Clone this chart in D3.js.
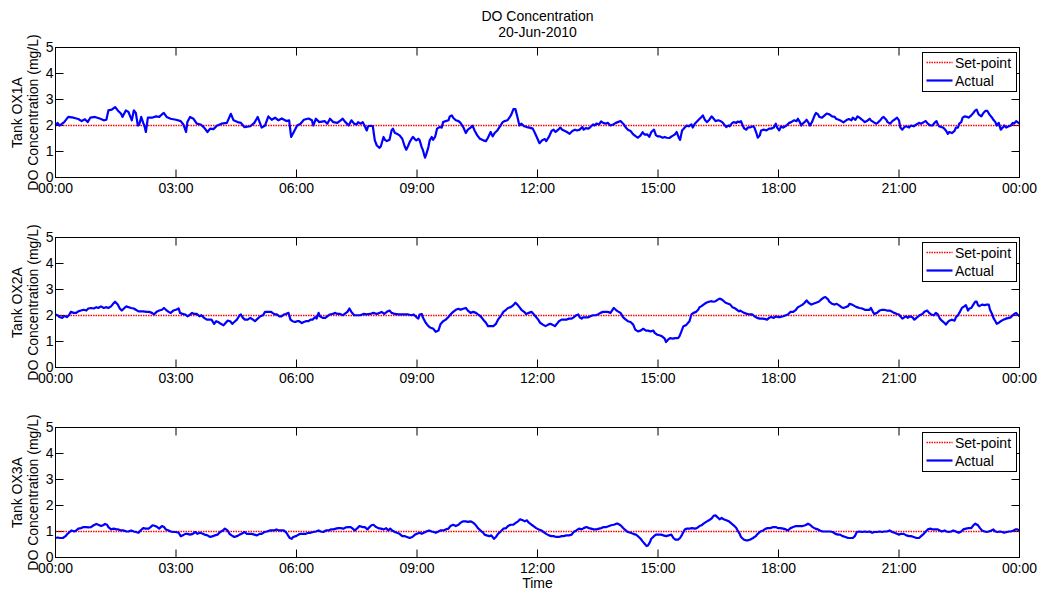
<!DOCTYPE html>
<meta charset="utf-8">

<style type="text/css">
body { margin: 0; background: #fff; }
text { font-family: "Liberation Sans", Arial, sans-serif; fill: #000; }
/* blue measured trace */
.line {
    fill: none;
    stroke: #0000ff;
    stroke-width: 2.2px;
    stroke-linejoin: round;
}
</style>
<body>
</body>

<script src="https://cdnjs.cloudflare.com/ajax/libs/d3/7.8.5/d3.min.js"></script>
<script>

// ---- data : [minute of day, DO mg/L] ----
var tanks = ["OX1A", "OX2A", "OX3A"];
var setPoints = [2, 2, 1];
var xTicks = [0, 180, 360, 540, 720, 900, 1080, 1260, 1440];
var xTickLabels = ["00:00", "03:00", "06:00", "09:00", "12:00", "15:00", "18:00", "21:00", "00:00"];
var yTicks = [0, 1, 2, 3, 4, 5];

var ox1a = [[0,2.0],[3,2.1],[6,2.0],[9,2.05],[13,2.13],[19,2.33],[27,2.3],[34,2.25],[39,2.17],[44,2.24],
[48,2.13],[52,2.3],[59,2.33],[67,2.26],[72,2.2],[76,2.22],[79,2.58],[84,2.61],[89,2.71],[93,2.58],
[98,2.45],[100,2.33],[105,2.58],[109,2.52],[111,2.39],[114,2.2],[117,2.58],[120,2.48],[123,2.0],[125,2.03],
[128,2.33],[131,2.1],[133,1.97],[135,1.75],[138,2.3],[144,2.3],[150,2.35],[155,2.33],[160,2.45],[162,2.48],
[166,2.33],[172,2.26],[180,2.22],[187,2.17],[191,2.04],[195,1.75],[197,2.13],[201,2.33],[206,2.26],[211,2.07],
[217,2.04],[222,1.92],[227,1.75],[231,1.88],[236,1.86],[241,1.99],[248,2.07],[256,2.1],[262,2.45],[266,2.2],
[272,2.13],[277,2.1],[282,1.94],[291,1.97],[297,2.1],[302,2.33],[308,1.92],[313,2.0],[318,2.35],[323,2.22],
[328,2.3],[333,2.2],[338,2.27],[345,2.17],[349,2.2],[352,1.56],[356,1.75],[361,2.0],[366,2.07],[371,2.22],
[378,2.27],[383,2.2],[385,2.0],[389,2.26],[394,2.13],[402,2.17],[406,2.07],[410,2.26],[415,2.13],[421,2.1],
[426,2.2],[429,2.26],[433,2.13],[438,2.0],
[442,2.2],[446,2.07],[450,2.04],[452,2.13],[456,2.07],[459,2.13],[462,1.97],[465,1.81],[467,1.97],[471,1.99],
[474,1.97],[477,1.43],[480,1.23],[484,1.14],[486,1.2],[490,1.56],[492,1.45],[495,1.4],[499,1.45],[502,1.81],
[504,1.88],[507,1.71],[510,1.68],[514,1.62],[518,1.49],[522,1.17],[524,1.07],[527,1.23],[529,1.36],[532,1.49],
[534,1.56],[537,1.47],[539,1.43],[542,1.49],[544,1.43],[547,1.17],[549,1.04],[552,0.76],[554,0.91],[557,1.17],
[559,1.43],[562,1.56],[564,1.45],[567,1.56],[570,1.88],[574,1.94],[577,1.92],[579,2.13],[583,2.17],[587,2.2],
[589,2.35],[592,2.39],[594,2.3],[598,2.2],[602,2.17],[605,2.1],[609,1.94],[613,1.71],[616,1.84],[620,1.92],
[623,1.99],[626,1.81],[630,1.62],[634,1.49],[639,1.43],[643,1.4],[646,1.53],[650,1.75],[653,1.58],[656,1.71],
[660,1.81],[664,1.97],[668,2.13],[671,2.17],[675,2.2],[678,2.3],[681,2.43],[684,2.63],[687,2.63],[690,2.33],
[693,2.0],[696,2.07],[700,1.97],[704,1.94],[708,1.92],[713,1.88],[717,1.66],[720,1.49],[723,1.32],[727,1.43],
[731,1.48],[733,1.4],[737,1.56],[741,1.79],[744,1.84],[747,1.75],[751,1.84],[754,1.92],[757,1.84],[761,1.79],
[764,1.75],[768,1.68],[772,1.79],[776,1.84],[779,1.81],[783,1.84],[787,1.94],[789,1.84],[792,1.9],[796,1.88],
[799,1.94],[803,2.04],[805,2.0],[808,2.07],[812,2.04],[815,2.16],[818,2.1],[822,2.07],[825,2.1],[829,2.0],
[833,2.04],[837,2.1],[840,2.13],[844,2.17],[848,2.07],[852,1.92],[855,1.84],[859,1.79],[863,1.66],[867,1.58],
[870,1.53],[874,1.62],[877,1.74],[880,1.65],[884,1.66],[887,1.56],[890,1.75],[894,1.84],[897,1.62],[900,1.58],
[903,1.58],[907,1.53],[910,1.56],[913,1.53],[917,1.52],[921,1.59],[925,1.65],[928,1.75],[931,1.53],[933,1.45],
[936,1.81],[940,1.92],[943,2.0],[946,1.97],[950,2.04],[952,1.92],[955,2.07],[960,2.2],
[965,2.33],[967,2.39],[970,2.22],[973,2.13],[976,2.2],[980,2.35],[982,2.3],[986,2.17],[990,2.2],[993,2.17],
[996,2.13],[1000,2.0],[1002,1.94],[1005,2.0],[1007,1.97],[1011,2.1],[1013,2.13],[1017,2.1],[1019,2.15],[1022,2.13],
[1024,2.17],[1027,1.97],[1029,1.88],[1032,1.84],[1034,1.92],[1039,1.94],[1042,1.97],[1044,1.92],[1047,1.71],[1049,1.53],
[1052,1.62],[1054,1.81],[1058,1.84],[1062,1.81],[1066,1.88],[1069,1.88],[1073,1.92],[1076,2.07],[1078,1.92],[1081,1.81],
[1084,1.97],[1087,1.92],[1092,2.0],[1096,2.1],[1099,2.13],[1103,2.2],[1107,2.17],[1109,2.26],[1112,2.13],[1114,2.0],
[1116,2.07],[1119,2.13],[1122,2.22],[1125,2.1],[1127,2.0],[1130,2.13],[1134,2.39],[1136,2.48],[1139,2.43],[1141,2.33],
[1145,2.3],[1149,2.39],[1152,2.46],[1156,2.43],[1160,2.35],[1164,2.33],[1166,2.26],[1170,2.22],[1174,2.17],[1177,2.12],
[1181,2.2],[1185,2.25],[1189,2.2],[1191,2.3],[1195,2.22],[1198,2.35],[1201,2.3],[1205,2.22],[1209,2.13],[1212,2.17],
[1216,2.26],[1218,2.2],[1222,2.13],[1226,2.07],[1228,2.1],[1232,2.2],[1235,2.3],[1237,2.33],[1241,2.22],[1243,2.13],
[1247,2.07],[1250,2.17],[1253,2.22],[1257,2.3],[1260,2.2],[1262,1.92],[1265,1.84],[1268,1.94],[1271,1.97],[1275,1.92],
[1278,2.0],[1282,1.97],[1286,2.04],[1290,2.1],[1293,2.07],[1297,2.13],[1300,2.17],[1303,2.07],[1307,2.0],[1310,2.0],
[1313,2.1],[1316,2.17],[1318,2.04],[1320,1.97],[1323,1.94],[1326,1.92],[1330,1.81],[1333,1.68],[1335,1.75],[1339,1.71],
[1343,1.79],[1345,1.92],[1348,1.92],[1350,2.07],[1353,2.13],[1355,2.3],[1358,2.35],[1362,2.33],[1364,2.3],[1368,2.39],
[1371,2.48],[1374,2.58],[1376,2.61],[1379,2.43],[1383,2.35],[1386,2.48],[1389,2.56],[1392,2.56],[1395,2.43],[1399,2.3],
[1401,2.22],[1404,2.13],[1406,2.0],[1409,2.1],[1412,1.84],[1415,1.92],[1417,2.0],[1420,1.92],[1424,1.97],[1427,2.0],
[1430,2.1],[1432,2.07],[1435,2.17],[1437,2.13],[1440,2.07]];

var ox2a = [[0,2.04],[3,2.01],[6,1.94],[10,1.91],[13,1.98],[17,1.94],[20,2.01],[23,2.14],[27,2.1],[31,2.1],
[34,2.16],[38,2.19],[42,2.22],[46,2.19],[49,2.27],[53,2.29],[57,2.27],[61,2.32],[64,2.29],[68,2.35],
[72,2.29],[76,2.32],[79,2.29],[83,2.35],[86,2.45],[89,2.53],[93,2.42],[96,2.27],[99,2.19],[103,2.29],
[106,2.35],[109,2.32],[113,2.29],[117,2.27],[120,2.22],[124,2.16],[127,2.16],[131,2.16],[136,2.14],[140,2.14],
[144,2.1],[147,2.04],[151,2.14],[155,2.19],[159,2.22],[162,2.29],[165,2.22],[169,2.14],[172,2.1],[176,2.19],
[180,2.22],[184,2.27],[186,2.1],[190,2.06],[194,2.04],[197,1.97],[200,2.01],[204,2.1],[207,2.06],[211,2.06],
[215,1.97],[218,2.01],[222,1.91],[226,1.84],[230,1.84],[233,1.84],[237,1.68],[240,1.78],[243,1.75],[247,1.68],
[251,1.62],[254,1.71],[257,1.8],[261,1.78],[264,1.68],[267,1.75],[271,1.84],[275,2.01],[277,2.04],[280,1.91],
[283,1.84],[287,1.84],[291,1.91],[295,1.84],[298,1.78],[302,1.88],[306,1.97],[310,2.01],[313,2.14],[318,2.14],
[322,2.14],[324,2.1],[328,2.04],[331,2.04],[334,1.97],[338,1.97],[341,2.04],[344,2.06],[348,2.1],[351,1.84],
[354,1.78],[358,1.75],[361,1.78],[364,1.78],[368,1.71],[371,1.75],[374,1.78],[378,1.78],[381,1.84],[384,1.84],
[388,1.94],[390,1.88],[393,2.1],[395,1.97],[399,1.91],[403,1.91],[406,1.97],[410,2.04],[414,2.06],[418,2.1],
[421,2.06],[425,2.06],[429,2.01],[432,2.06],[436,2.14],[439,2.27],[442,2.14],[446,2.01],[450,2.01],[455,2.01],
[460,2.06],[465,2.04],[470,2.06],[475,2.1],[480,2.06],[484,2.1],[487,2.14],[491,2.06],[495,2.14],[499,2.19],
[502,2.1],[507,2.06],[512,2.04],[517,2.04],[522,2.04],[527,2.04],[532,2.01],[535,2.04],[539,1.94],[542,1.88],
[544,2.04],[547,2.06],[549,1.91],[553,1.72],[557,1.59],[560,1.53],[564,1.5],[568,1.37],[572,1.42],[575,1.66],
[579,1.78],[583,1.84],[587,1.94],[590,2.04],[594,2.14],[598,2.22],[602,2.26],[605,2.22],[609,2.26],[613,2.29],
[616,2.19],[620,2.1],[624,2.14],[628,2.1],[631,2.04],[635,1.97],[639,1.84],[643,1.72],[646,1.59],[650,1.59],
[654,1.59],[658,1.68],[661,1.84],[665,1.97],[669,2.14],[673,2.22],[676,2.29],[680,2.32],[684,2.4],[687,2.49],
[690,2.42],[693,2.32],[696,2.22],[700,2.14],[703,2.06],[707,2.1],[711,2.14],[714,2.06],[717,1.97],[721,1.84],
[724,1.72],[728,1.65],[732,1.59],[736,1.65],[739,1.68],[742,1.65],[746,1.59],[749,1.68],[752,1.78],[756,1.84],
[759,1.84],[763,1.84],[767,1.88],[771,1.88],[774,1.93],[778,2.01],[781,2.04],[783,1.93],[786,1.88],[788,1.93],
[792,1.93],[796,1.93],[799,1.97],[803,2.01],[807,2.01],[810,2.04],[814,2.1],[818,2.14],[822,2.14],[825,2.14],
[829,2.1],[832,2.22],[834,2.29],[837,2.22],[840,2.16],[844,2.1],[848,1.93],[852,1.84],[855,1.78],[859,1.75],
[863,1.65],[866,1.46],[870,1.39],[874,1.42],[878,1.49],[882,1.42],[885,1.42],[889,1.39],[893,1.42],[895,1.33],
[899,1.26],[902,1.24],[906,1.2],[910,1.11],[912,0.98],[915,1.07],[918,1.13],[922,1.11],[926,1.13],[930,1.13],
[932,1.2],[935,1.39],[938,1.59],[942,1.63],[945,1.72],[947,1.78],[950,2.04],[953,2.1],[957,2.14],[960,2.22],
[962,2.32],[965,2.36],[968,2.42],[972,2.49],[976,2.53],[980,2.55],[983,2.53],[986,2.55],[990,2.62],[992,2.65],
[995,2.62],[997,2.58],[1001,2.49],[1005,2.45],[1008,2.42],[1011,2.32],[1014,2.29],[1018,2.22],[1021,2.16],[1023,2.19],
[1026,2.14],[1029,2.1],[1033,2.06],[1037,2.04],[1041,2.04],[1044,1.97],[1048,1.91],[1052,1.88],[1056,1.88],[1059,1.87],
[1063,1.84],[1066,1.91],[1069,1.94],[1073,1.91],[1076,1.97],[1079,1.94],[1083,1.94],[1087,1.97],[1091,2.01],[1094,2.04],
[1098,2.14],[1102,2.14],[1106,2.22],[1109,2.32],[1112,2.36],[1116,2.42],[1119,2.49],[1122,2.58],[1125,2.49],[1129,2.42],
[1132,2.45],[1136,2.49],[1140,2.53],[1144,2.62],[1147,2.68],[1150,2.71],[1154,2.62],[1156,2.53],[1160,2.45],[1164,2.42],
[1167,2.45],[1170,2.4],[1174,2.32],[1177,2.29],[1180,2.32],[1184,2.36],[1186,2.45],[1190,2.42],[1194,2.36],[1197,2.32],
[1201,2.29],[1205,2.27],[1209,2.22],[1212,2.22],[1216,2.22],[1218,2.29],[1221,2.14],[1223,2.06],[1227,2.1],[1231,2.19],
[1235,2.22],[1238,2.22],[1242,2.19],[1246,2.19],[1250,2.14],[1253,2.1],[1257,2.06],[1260,2.04],[1262,1.97],[1265,1.88],
[1268,1.93],[1271,1.97],[1273,1.91],[1276,1.97],[1280,1.93],[1283,1.84],[1287,1.93],[1291,2.01],[1295,2.06],[1298,2.14],
[1302,2.19],[1305,2.1],[1308,2.04],[1312,2.01],[1315,2.1],[1318,2.04],[1321,1.88],[1324,1.8],[1328,1.71],[1330,1.65],
[1333,1.75],[1335,1.8],[1339,1.84],[1343,1.8],[1345,1.93],[1348,2.01],[1351,2.14],[1354,2.29],[1358,2.36],[1360,2.4],
[1363,2.19],[1365,2.27],[1368,2.29],[1371,2.42],[1374,2.53],[1376,2.53],[1378,2.4],[1380,2.36],[1384,2.42],[1388,2.4],
[1391,2.42],[1394,2.42],[1396,2.22],[1399,2.06],[1401,1.91],[1404,1.78],[1406,1.68],[1409,1.72],[1412,1.78],[1416,1.84],
[1420,1.88],[1424,1.91],[1427,1.93],[1430,2.01],[1432,2.06],[1435,2.1],[1437,2.04],[1440,1.97]];

var ox3a = [[0,0.75],[3,0.77],[7,0.75],[11,0.75],[15,0.82],[18,0.91],[22,1.0],[24,1.04],[28,1.0],[31,1.04],
[34,1.11],[38,1.13],[42,1.17],[46,1.17],[49,1.16],[53,1.17],[57,1.24],[61,1.29],[64,1.26],[68,1.21],
[71,1.24],[74,1.29],[77,1.26],[79,1.17],[83,1.08],[87,1.11],[91,1.08],[94,1.08],[98,1.04],[102,1.04],
[106,1.0],[109,1.0],[113,1.04],[117,1.0],[120,0.98],[124,0.95],[127,1.04],[131,1.13],[135,1.11],[139,1.11],
[142,1.17],[145,1.24],[149,1.21],[152,1.17],[155,1.11],[159,1.21],[162,1.17],[165,1.08],[169,1.04],[172,1.0],
[176,0.98],[180,0.98],[184,0.95],[187,0.82],[190,0.85],[194,0.91],[197,0.91],[201,0.88],[205,0.91],[209,0.98],
[212,0.91],[216,0.95],[220,0.91],[223,0.88],[227,0.85],[231,0.79],[235,0.82],[238,0.85],[242,0.88],[246,0.98],
[250,1.04],[253,1.11],[257,1.04],[260,0.91],[263,0.85],[267,0.79],[271,0.82],[275,0.88],[278,0.91],[282,0.98],
[286,0.91],[290,0.91],[293,0.91],[297,0.88],[301,0.85],[305,0.91],[308,0.91],[312,0.98],[316,1.0],[320,1.04],
[323,1.04],[326,1.04],[330,1.08],[334,1.04],[338,1.04],[341,1.04],[344,0.98],[346,0.91],[348,0.82],[350,0.75],
[353,0.72],[355,0.79],[359,0.82],[363,0.88],[366,0.91],[370,0.91],[374,0.91],[378,0.95],[381,0.95],[385,0.98],
[389,1.0],[393,1.04],[396,1.0],[400,0.98],[404,1.04],[408,1.04],[411,1.08],[415,1.08],[419,1.11],[422,1.13],
[426,1.13],[430,1.11],[434,1.16],[437,1.17],[441,1.17],[444,1.11],[447,1.04],[451,1.13],[454,1.21],
[459,1.17],[462,1.17],[466,1.08],[469,1.17],[472,1.24],[475,1.26],[479,1.17],[482,1.13],[486,1.11],[490,1.08],
[494,1.13],[497,1.04],[500,1.11],[503,1.04],[507,0.98],[510,0.95],[514,0.91],[518,0.82],[522,0.82],[525,0.79],
[529,0.75],[533,0.79],[537,0.88],[540,0.91],[544,0.95],[547,0.91],[550,0.95],[554,1.0],[558,1.04],[562,1.0],
[565,0.98],[568,0.95],[572,1.0],[575,1.04],[579,1.04],[583,1.08],[587,1.11],[590,1.21],[594,1.26],[598,1.21],
[602,1.26],[605,1.34],[609,1.39],[613,1.39],[616,1.37],[620,1.39],[624,1.34],[628,1.24],[631,1.13],[635,1.04],
[639,0.95],[641,0.88],[644,0.85],[648,0.82],[651,0.85],[655,0.72],[658,0.79],[661,0.91],[665,1.0],[669,1.11],
[673,1.13],[676,1.21],[680,1.26],[684,1.26],[688,1.34],[691,1.39],[694,1.47],[698,1.43],[701,1.39],[704,1.43],
[707,1.34],[711,1.26],[714,1.21],[718,1.13],[722,1.08],[726,1.04],[729,0.98],[733,0.91],[737,0.85],[741,0.82],
[744,0.82],[748,0.79],[752,0.79],[756,0.82],[759,0.82],[763,0.85],[767,0.85],[771,0.88],[774,0.98],[778,1.04],
[782,1.11],[786,1.08],[789,1.13],[793,1.17],[797,1.13],[800,1.11],[804,1.08],[808,1.08],[812,1.11],[815,1.13],
[819,1.17],[823,1.17],[827,1.21],[830,1.24],[834,1.26],[838,1.3],[840,1.3],[844,1.24],[848,1.13],[852,1.04],
[855,0.98],[859,0.95],[863,0.91],[867,0.88],[870,0.82],[874,0.72],[877,0.62],[880,0.53],[883,0.44],[885,0.46],
[888,0.59],[890,0.72],[894,0.82],[897,0.88],[901,0.88],[905,0.88],[908,0.85],[912,0.82],[916,0.85],[920,0.88],
[923,0.75],[926,0.69],[930,0.69],[933,0.75],[936,0.88],[940,1.08],[943,1.11],[947,1.11],[951,1.13],[955,1.11],
[958,1.13],[962,1.21],
[965,1.24],[968,1.3],[972,1.37],[976,1.43],[980,1.5],[983,1.6],[986,1.62],[990,1.52],[992,1.47],[995,1.52],
[998,1.47],[1002,1.43],[1006,1.39],[1010,1.3],[1013,1.24],[1017,1.13],[1019,1.04],[1022,0.91],[1024,0.79],[1028,0.69],
[1031,0.66],[1034,0.66],[1038,0.69],[1042,0.75],[1046,0.82],[1049,0.91],[1053,1.0],[1057,1.04],[1061,1.11],[1064,1.13],
[1068,1.13],[1072,1.17],[1076,1.17],[1079,1.13],[1083,1.13],[1087,1.11],[1091,1.08],[1094,1.04],[1098,1.13],[1102,1.17],
[1106,1.21],[1109,1.21],[1112,1.21],[1116,1.21],[1120,1.24],[1124,1.3],[1127,1.26],[1131,1.17],[1135,1.11],[1139,1.08],
[1142,1.04],[1146,1.0],[1150,1.0],[1154,1.0],[1157,1.0],[1161,0.98],[1165,0.91],[1169,0.88],[1172,0.88],[1176,0.82],
[1180,0.79],[1184,0.75],[1187,0.75],[1191,0.75],[1194,0.82],[1197,0.98],[1201,1.0],[1205,0.98],[1209,1.0],[1212,0.98],
[1216,1.0],[1220,0.95],[1223,0.98],[1227,0.98],[1231,1.0],[1235,0.98],[1238,1.0],[1242,1.0],[1246,1.04],[1250,0.98],
[1253,0.95],[1257,0.91],[1260,0.88],[1263,0.91],[1267,0.91],[1271,0.85],[1275,0.82],[1278,0.82],[1282,0.79],[1286,0.75],
[1290,0.75],[1293,0.82],[1297,0.91],[1300,1.0],[1303,1.08],[1307,1.11],[1310,1.08],[1314,1.08],[1318,1.08],[1321,1.04],
[1324,1.0],[1328,1.04],[1331,1.0],[1334,0.98],[1338,1.0],[1341,1.04],[1345,1.0],[1349,0.95],[1353,1.0],[1356,1.08],
[1360,1.11],[1364,1.13],[1368,1.13],[1371,1.24],[1374,1.3],[1378,1.24],[1381,1.13],[1384,1.04],[1388,1.0],[1391,0.98],
[1394,1.0],[1398,1.04],[1401,1.08],[1404,1.0],[1407,0.98],[1411,1.0],[1414,0.98],[1417,0.95],[1421,0.98],[1424,1.0],
[1427,1.0],[1431,1.04],[1434,1.08],[1437,1.08],[1440,1.04]];

var series = [ox1a, ox2a, ox3a];

// ---- layout ----
var left = 55.5, width = 964, panelHeight = 130;
var panelTops = [47.5, 237.5, 427.5];
var fontFamily = "Liberation Sans, Arial, sans-serif";

var svg = d3.select("body")
    .append("svg")
    .attr("width", 1044)
    .attr("height", 595);

var x = d3.scaleLinear().domain([0, 1440]).range([0, width]);
var y = d3.scaleLinear().domain([0, 5]).range([panelHeight, 0]);

var valueline = d3.line()
    .x(function(d) { return x(d[0]); })
    .y(function(d) { return y(d[1]); });

// red dotted set-point style
function dotted(sel) {
    sel.attr("fill", "none")
        .attr("stroke", "#ff0000")
        .attr("stroke-width", 1.5)
        .attr("stroke-dasharray", "1.5,1");
}

// title
svg.append("text").attr("x", left + width / 2).attr("y", 21)
    .attr("text-anchor", "middle").style("font-size", "14px").text("DO Concentration");
svg.append("text").attr("x", left + width / 2).attr("y", 37)
    .attr("text-anchor", "middle").style("font-size", "14px").text("20-Jun-2010");

tanks.forEach(function(tank, i) {
    var g = svg.append("g")
        .attr("transform", "translate(" + left + "," + panelTops[i] + ")");

    // axes, ticks pointing inward on all four sides
    var bottom = g.append("g")
        .attr("transform", "translate(0," + panelHeight + ")")
        .call(d3.axisBottom(x).tickValues(xTicks)
            .tickFormat(function(d, k) { return xTickLabels[k]; })
            .tickSizeInner(-8).tickSizeOuter(0).tickPadding(6).offset(0));
    var top = g.append("g")
        .call(d3.axisTop(x).tickValues(xTicks).tickFormat("")
            .tickSizeInner(-8).tickSizeOuter(0).offset(0));
    var leftAx = g.append("g")
        .call(d3.axisLeft(y).tickValues(yTicks).tickFormat(d3.format("d"))
            .tickSizeInner(-8).tickSizeOuter(0).tickPadding(2).offset(0));
    var rightAx = g.append("g")
        .attr("transform", "translate(" + width + ",0)")
        .call(d3.axisRight(y).tickValues(yTicks).tickFormat("")
            .tickSizeInner(-8).tickSizeOuter(0).offset(0));

    [bottom, top, leftAx, rightAx].forEach(function(a) {
        a.select(".domain").remove();
        a.attr("font-size", 14).attr("font-family", fontFamily);
        a.selectAll(".tick line").attr("stroke", "#000");
    });

    // set-point and measured trace
    g.append("path")
        .datum([[0, setPoints[i]], [1440, setPoints[i]]])
        .attr("d", valueline)
        .call(dotted);

    g.append("path")
        .datum(series[i])
        .attr("class", "line")
        .attr("d", valueline);

    // frame
    g.append("rect")
        .attr("width", width).attr("height", panelHeight)
        .attr("fill", "none").attr("stroke", "#000").attr("stroke-width", 1);

    // y labels
    g.append("text")
        .attr("transform", "translate(" + (21.7 - left) + "," + panelHeight / 2 + ") rotate(-90)")
        .attr("text-anchor", "middle").style("font-size", "14px")
        .text("Tank " + tank);
    g.append("text")
        .attr("transform", "translate(" + (38.3 - left) + "," + panelHeight / 2 + ") rotate(-90)")
        .attr("text-anchor", "middle").style("font-size", "14px")
        .text("DO Concentration (mg/L)");

    // legend
    var legend = g.append("g").attr("transform", "translate(867,5)");
    legend.append("rect")
        .attr("width", 94).attr("height", 39)
        .attr("fill", "#fff").attr("stroke", "#000").attr("stroke-width", 1);
    legend.append("line")
        .attr("x1", 4).attr("x2", 30).attr("y1", 10).attr("y2", 10)
        .call(dotted);
    legend.append("line").attr("class", "line")
        .attr("x1", 4).attr("x2", 30).attr("y1", 28).attr("y2", 28);
    legend.append("text").attr("x", 32.5).attr("y", 15.5)
        .style("font-size", "14px").text("Set-point");
    legend.append("text").attr("x", 32.5).attr("y", 33.5)
        .style("font-size", "14px").text("Actual");
});

// x axis label
svg.append("text").attr("x", left + width / 2).attr("y", 588)
    .attr("text-anchor", "middle").style("font-size", "14px").text("Time");

</script>
